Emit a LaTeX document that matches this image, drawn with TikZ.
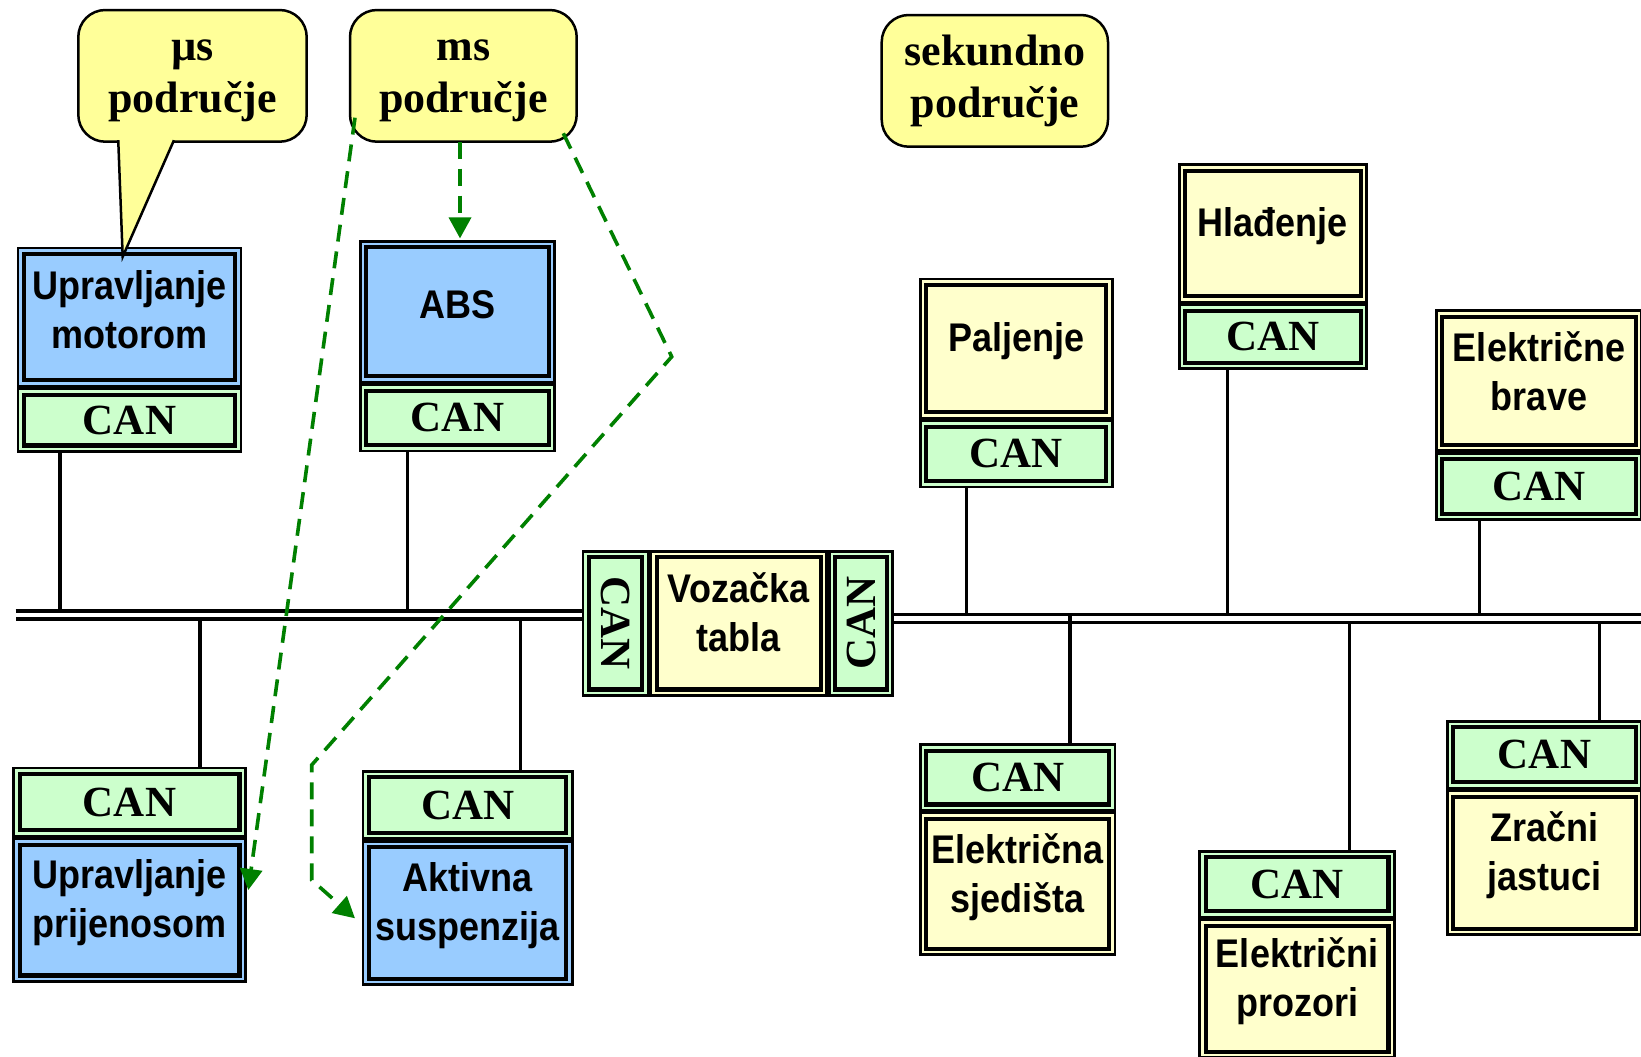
\documentclass[tikz,border=0pt]{standalone}
\usepackage{fontspec}
\setmainfont{Liberation Serif}
\newfontfamily\labelsans{Liberation Sans}[FakeStretch=0.9]
\usetikzlibrary{arrows.meta}

\definecolor{fnblue}{HTML}{99CCFF}
\definecolor{fnyellow}{HTML}{FFFFCC}
\definecolor{cangreen}{HTML}{CCFFCC}
\definecolor{calloutyellow}{HTML}{FFFF99}
\definecolor{flowgreen}{HTML}{008000}

\tikzset{
  unit/.style={draw=black, line width=1.3pt, double distance=1.3pt, inner sep=0pt, outer sep=0pt},
  innerframe/.style={draw=black, line width=1.4pt},
  fntext/.style={font=\labelsans\bfseries\fontsize{20pt}{24.5pt}\selectfont, align=center, yshift=3.5pt, inner sep=0pt},
  cantext/.style={font=\bfseries\fontsize{21.5pt}{25pt}\selectfont, inner sep=0pt},
  callbox/.style={draw=black, line width=1.25pt, fill=calloutyellow, rounded corners=13.5pt,
    inner sep=0pt, outer sep=0pt, align=center, font=\bfseries\fontsize{22pt}{26pt}\selectfont},
  bus/.style={draw=black, line width=1.6pt, double=white, double distance=2.4pt},
  stub/.style={draw=black, line width=1.6pt},
  flow/.style={draw=flowgreen, line width=1.8pt, dash pattern=on 8.5pt off 5pt,
    -{Triangle[length=10.5pt,width=11pt]}},
}

% one framed part of a unit: name, x1, y1, x2, y2 (outer edges), colour, text style, text
\newcommand\unitbox[8]{%
  \pgfmathsetmacro\ubw{(#4-#2)/2-3.9}%
  \pgfmathsetmacro\ubh{(#5-#3)/2-3.9}%
  \node[unit, fill=#6, double=#6, minimum width=\ubw pt, minimum height=\ubh pt] (#1) at ({(#2+#4)/2},{(#3+#5)/2}) {};
  \draw[innerframe] ([xshift=2pt,yshift=-2pt]#1.north west) rectangle ([xshift=-2pt,yshift=2pt]#1.south east);
  \node[#7] (#1-t) at (#1.center) {#8};
}

\begin{document}
\begin{tikzpicture}[x=0.5pt,y=-0.5pt]
\useasboundingbox (0,0) rectangle (1641,1056);
\clip (0,0) rectangle (1641,1056);

% ---- units on the left segment
\unitbox{motFn}{16.7}{246.7}{242.3}{387.3}{fnblue}{fntext}{Upravljanje\\motorom}
\unitbox{motCan}{16.7}{387.3}{242.3}{452.7}{cangreen}{cantext}{CAN}
\unitbox{absFn}{359}{240}{556}{383.3}{fnblue}{fntext}{ABS}
\unitbox{absCan}{359}{383.3}{556}{452.3}{cangreen}{cantext}{CAN}
\unitbox{prijCan}{12.3}{766.7}{246.7}{837.3}{cangreen}{cantext}{CAN}
\unitbox{prijFn}{12.3}{837.3}{246.7}{982.7}{fnblue}{fntext}{Upravljanje\\prijenosom}
\unitbox{aktCan}{361.7}{770}{573.5}{840}{cangreen}{cantext}{CAN}
\unitbox{aktFn}{361.7}{840}{573.5}{986}{fnblue}{fntext}{Aktivna\\suspenzija}

% ---- dashboard gateway
\unitbox{vzL}{581.7}{550}{649.3}{696.7}{cangreen}{cantext,rotate=-90}{CAN}
\unitbox{vzFn}{649.3}{550}{828}{696.7}{fnyellow}{fntext,yshift=2pt}{Vozačka\\tabla}
\unitbox{vzR}{828}{550}{894}{696.7}{cangreen}{cantext,rotate=90}{CAN}

% ---- units on the right segment
\unitbox{palFn}{919}{277.7}{1113.6}{419.3}{fnyellow}{fntext}{Paljenje}
\unitbox{palCan}{919}{419.3}{1113.6}{488.3}{cangreen}{cantext}{CAN}
\unitbox{hlaFn}{1177.9}{163.3}{1367.9}{303.3}{fnyellow}{fntext}{Hlađenje}
\unitbox{hlaCan}{1177.9}{303.3}{1367.9}{370}{cangreen}{cantext}{CAN}
\unitbox{braFn}{1435}{309.3}{1643}{452}{fnyellow}{fntext,yshift=1pt}{Električne\\brave}
\unitbox{braCan}{1435}{452}{1643}{521}{cangreen}{cantext}{CAN}
\unitbox{sjeCan}{918.9}{743.3}{1116.4}{811.7}{cangreen}{cantext}{CAN}
\unitbox{sjeFn}{918.9}{811.7}{1116.4}{956}{fnyellow}{fntext}{Električna\\sjedišta}
\unitbox{proCan}{1198.3}{850}{1395.7}{918.3}{cangreen}{cantext}{CAN}
\unitbox{proFn}{1198.3}{918.3}{1395.7}{1059}{fnyellow}{fntext}{Električni\\prozori}
\unitbox{zraCan}{1446}{720}{1643}{789.3}{cangreen}{cantext}{CAN}
\unitbox{zraFn}{1446}{789.3}{1643}{936}{fnyellow}{fntext}{Zračni\\jastuci}

% ---- bus segments
\coordinate (busLstart) at (15.5,615);
\coordinate (busRend) at (1650,618.3);
\coordinate (vzLedge) at ([xshift=-1.95pt]vzL.west);
\coordinate (vzRedge) at ([xshift=1.95pt]vzR.east);
\draw[bus] (busLstart) -- (busLstart -| vzLedge);
\draw[bus] (vzRedge |- busRend) -- (busRend);

\coordinate (busLtop) at (0,611);
\coordinate (busLbot) at (0,619);
\coordinate (busRtop) at (0,614.3);
\coordinate (busRbot) at (0,622.2);

% ---- drop lines to the bus
\coordinate (s1) at ([shift={(-69.5,3.9)}]motCan.south);
\coordinate (s2) at ([shift={(-50.2,3.9)}]absCan.south);
\coordinate (s3) at ([shift={(70.5,-3.9)}]prijCan.north);
\coordinate (s4) at ([shift={(53.1,-3.9)}]aktCan.north);
\coordinate (s5) at ([shift={(-50.1,3.9)}]palCan.south);
\coordinate (s6) at ([shift={(-45.4,3.9)}]hlaCan.south);
\coordinate (s7) at ([shift={(-59.7,3.9)}]braCan.south);
\coordinate (s8) at ([shift={(52.35,-3.9)}]sjeCan.north);
\coordinate (s9) at ([shift={(52.5,-3.9)}]proCan.north);
\coordinate (s10) at ([shift={(54.9,-3.9)}]zraCan.north);
\draw[stub] (s1) -- (s1 |- busLtop);
\draw[stub] (s2) -- (s2 |- busLtop);
\draw[stub] (s3 |- busLbot) -- (s3);
\draw[stub] (s4 |- busLbot) -- (s4);
\draw[stub] (s5) -- (s5 |- busRtop);
\draw[stub] (s6) -- (s6 |- busRtop);
\draw[stub] (s7) -- (s7 |- busRtop);
\draw[stub] (s8 |- busRtop) -- (s8);
\draw[stub] (s9 |- busRbot) -- (s9);
\draw[stub] (s10 |- busRbot) -- (s10);

% ---- timing callouts
\node[callbox, minimum width=114.2pt, minimum height=65.85pt] (usCall) at (192.5,75.85) {\vphantom{d}µs\\područje};
\fill[calloutyellow] ([shift={(-74.35,-4)}]usCall.south) -- ([shift={(-69.8,115)}]usCall.south)
  -- ([shift={(-17.44,-4)}]usCall.south) -- cycle;
\draw[line width=1.25pt] ([shift={(-74.26,-1.5)}]usCall.south) -- ([shift={(-69.8,115)}]usCall.south)
  -- ([shift={(-18.54,-1.5)}]usCall.south);
\node[callbox, minimum width=113.35pt, minimum height=65.85pt] (msCall) at (463.35,75.85) {\vphantom{d}ms\\područje};
\node[callbox, minimum width=113.15pt, minimum height=65.85pt] (secCall) at (994.85,80.85) {sekundno\\područje};

% ---- ms-range flows
\coordinate (absTip) at ([shift={(2.5,-5.5)}]absFn.north);
\draw[flow] ([shift={(5,-24)}]msCall.south west) -- ([shift={(5.5,-20)}]prijFn.east);
\draw[flow] (msCall.south -| absTip) -- (absTip);
\draw[flow] ([shift={(-13.4,-8.4)}]msCall.south east) -- (671.7,356.7) -- (311.7,765)
  -- (311.7,880) -- ([shift={(-10.6,5.3)}]aktFn.west);
\end{tikzpicture}
\end{document}
